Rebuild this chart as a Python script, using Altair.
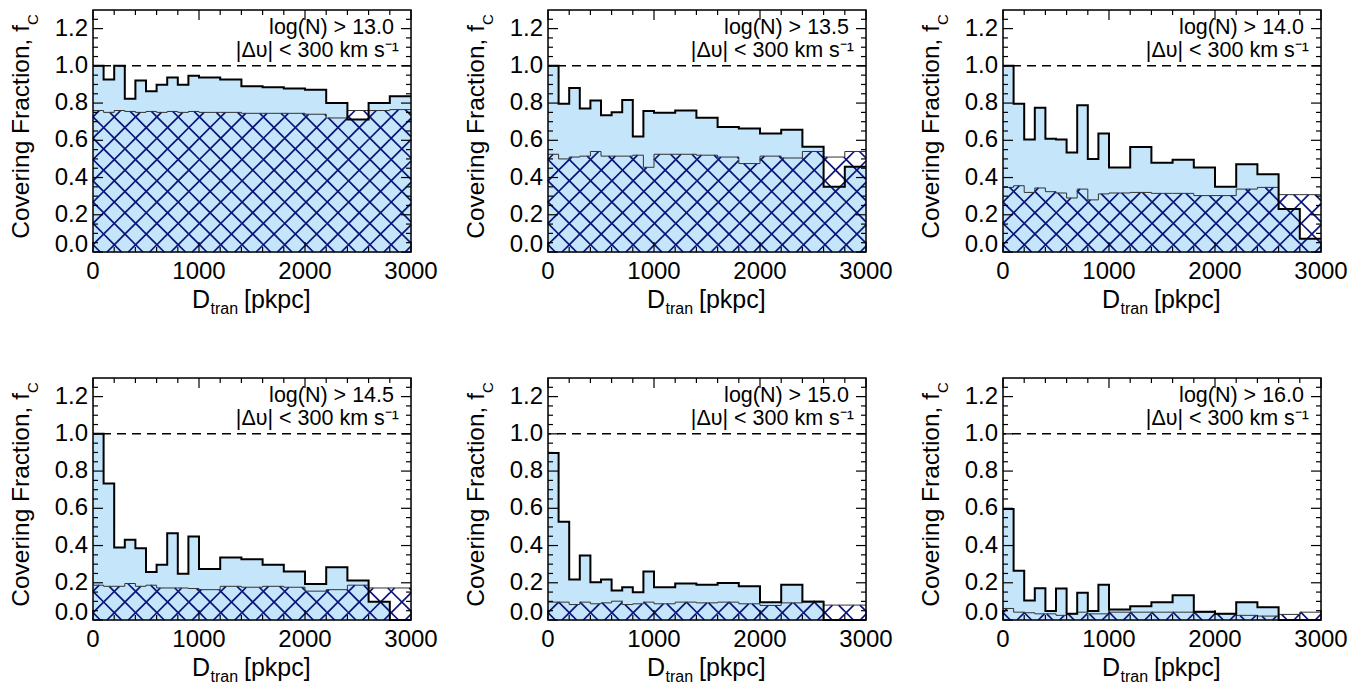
import math
import altair as alt
import pandas as pd

# ---------------- data ----------------
BIN_LO = [0, 100, 200, 300, 400, 500, 600, 700, 800, 900,
          1000, 1200, 1400, 1600, 1800, 2000, 2200, 2400, 2600, 2800]
BIN_HI = [100, 200, 300, 400, 500, 600, 700, 800, 900, 1000,
          1200, 1400, 1600, 1800, 2000, 2200, 2400, 2600, 2800, 3000]

THRESH = ["13.0", "13.5", "14.0", "14.5", "15.0", "16.0"]

FC_ALL_130 = [1.0, 0.926, 1.0, 0.823, 0.921, 0.864, 0.899, 0.938, 0.899, 0.947,
              0.938, 0.926, 0.890, 0.885, 0.878, 0.872, 0.801, 0.712, 0.801, 0.837]
FC_HAT_130 = [0.76, 0.75, 0.76, 0.755, 0.75, 0.755, 0.75, 0.755, 0.75, 0.755,
              0.75, 0.75, 0.745, 0.745, 0.745, 0.74, 0.72, 0.76, 0.76, 0.765]

FC_ALL_135 = [1.0, 0.796, 0.881, 0.771, 0.814, 0.734, 0.751, 0.816, 0.62, 0.757,
              0.748, 0.760, 0.721, 0.671, 0.664, 0.637, 0.657, 0.566, 0.351, 0.458]
FC_HAT_135 = [0.525, 0.50, 0.51, 0.515, 0.54, 0.515, 0.515, 0.515, 0.52, 0.455,
              0.525, 0.525, 0.52, 0.51, 0.475, 0.515, 0.505, 0.54, 0.51, 0.54]

FC_ALL_140 = [1.0, 0.796, 0.605, 0.775, 0.609, 0.604, 0.534, 0.789, 0.499, 0.636,
              0.454, 0.564, 0.479, 0.495, 0.454, 0.351, 0.472, 0.418, 0.231, 0.071]
FC_HAT_140 = [0.347, 0.356, 0.32, 0.344, 0.324, 0.317, 0.29, 0.338, 0.28, 0.312,
              0.317, 0.32, 0.315, 0.315, 0.303, 0.303, 0.338, 0.347, 0.308, 0.308]

FC_ALL_145 = [1.0, 0.733, 0.39, 0.431, 0.386, 0.258, 0.297, 0.466, 0.249, 0.448,
              0.274, 0.336, 0.327, 0.297, 0.261, 0.194, 0.283, 0.212, 0.098, 0.0]
FC_HAT_145 = [0.187, 0.181, 0.181, 0.196, 0.181, 0.187, 0.172, 0.172, 0.172, 0.169,
              0.163, 0.181, 0.176, 0.181, 0.176, 0.155, 0.163, 0.187, 0.172, 0.172]

FC_ALL_150 = [0.897, 0.528, 0.217, 0.347, 0.203, 0.217, 0.158, 0.176, 0.149, 0.261,
              0.176, 0.196, 0.19, 0.199, 0.181, 0.096, 0.19, 0.098, 0.0, 0.0]
FC_HAT_150 = [0.096, 0.096, 0.083, 0.096, 0.087, 0.092, 0.101, 0.083, 0.087, 0.096,
              0.087, 0.096, 0.092, 0.096, 0.087, 0.078, 0.092, 0.101, 0.08, 0.08]

FC_ALL_160 = [0.596, 0.265, 0.105, 0.171, 0.048, 0.169, 0.033, 0.146, 0.048, 0.19,
              0.057, 0.074, 0.096, 0.133, 0.044, 0.033, 0.096, 0.069, 0.0, 0.0]
FC_HAT_160 = [0.062, 0.042, 0.039, 0.033, 0.033, 0.025, 0.033, 0.042, 0.033, 0.033,
              0.042, 0.042, 0.042, 0.042, 0.042, 0.033, 0.025, 0.021, 0.03, 0.042]

FC_ALL = [FC_ALL_130, FC_ALL_135, FC_ALL_140, FC_ALL_145, FC_ALL_150, FC_ALL_160]
FC_HAT = [FC_HAT_130, FC_HAT_135, FC_HAT_140, FC_HAT_145, FC_HAT_150, FC_HAT_160]

Y_MAJOR = [0.0, 0.2, 0.4, 0.6, 0.8, 1.0, 1.2]
Y_LABELS = ["0.0", "0.2", "0.4", "0.6", "0.8", "1.0", "1.2"]
Y_MINOR = [round(0.05 * i, 2) for i in range(1, 26) if i % 4 != 0]
X_MAJOR = [0, 1000, 2000, 3000]
X_LABELS = ["0", "1000", "2000", "3000"]
X_MINOR = [200, 400, 600, 800, 1200, 1400, 1600, 1800, 2200, 2400, 2600, 2800]

# ---------------- style ----------------
W, H = 318, 242
XMAX, YMAX = 3000.0, 1.3
BLUE = "#c4e5fa"
NAVY = "#0a1478"
FONT = "Liberation Sans"
HATCH_STEP = 21.3
HATCH_PHASE = 7.3
TICK_FS = 24
NOTE_FS = 21.5

X_SCALE = alt.Scale(domain=[0, XMAX], nice=False, zero=False)
Y_SCALE = alt.Scale(domain=[0, YMAX], nice=False, zero=False)


def hatch_segments(lo, hi, vals):
    """Cross-hatch segments (45 deg in pixel space) clipped to each bin."""
    rows = []
    s, p = HATCH_STEP, HATCH_PHASE
    for a, b, v in zip(lo, hi, vals):
        X0, X1 = a * W / XMAX, b * W / XMAX
        Y0, Y1 = 0.0, v * H / YMAX
        if Y1 <= 0:
            continue
        # family A: y = x + c
        for k in range(math.floor((Y0 - X1 - p) / s) - 1, math.ceil((Y1 - X0 - p) / s) + 2):
            c = p + k * s
            xa, xb = max(X0, Y0 - c), min(X1, Y1 - c)
            if xb - xa > 1e-6:
                rows.append((xa, xa + c, xb, xb + c))
        # family B: y = c - x
        for k in range(math.floor((X0 + Y0 - p) / s) - 1, math.ceil((X1 + Y1 - p) / s) + 2):
            c = p + k * s
            xa, xb = max(X0, c - Y1), min(X1, c - Y0)
            if xb - xa > 1e-6:
                rows.append((xa, c - xa, xb, c - xb))
    return pd.DataFrame({
        "x1": [r[0] * XMAX / W for r in rows],
        "y1": [r[1] * YMAX / H for r in rows],
        "x2": [r[2] * XMAX / W for r in rows],
        "y2": [r[3] * YMAX / H for r in rows],
    })


ONE = pd.DataFrame({"a": [0]})


def text(t, x, y, size, align="left", angle=0):
    kw = dict(text=t, align=align, baseline="alphabetic", fontSize=size,
              font=FONT, color="black")
    if angle:
        kw["angle"] = angle
    return alt.Chart(ONE).mark_text(**kw).encode(x=alt.value(x), y=alt.value(y))


def tick_layers():
    layers = []
    for vals, ln in ((Y_MAJOR, 10), (Y_MINOR, 5)):
        d = pd.DataFrame({"v": vals})
        yy = alt.Y("v:Q", scale=Y_SCALE, axis=None)
        layers.append(alt.Chart(d).mark_rule(color="black", strokeWidth=1.2).encode(
            y=yy, x=alt.value(0), x2=alt.value(ln)))
        layers.append(alt.Chart(d).mark_rule(color="black", strokeWidth=1.2).encode(
            y=yy, x=alt.value(W), x2=alt.value(W - ln)))
    for vals, ln in ((X_MAJOR, 10), (X_MINOR, 5)):
        d = pd.DataFrame({"v": vals})
        xx = alt.X("v:Q", scale=X_SCALE, axis=None)
        layers.append(alt.Chart(d).mark_rule(color="black", strokeWidth=1.2).encode(
            x=xx, y=alt.value(H), y2=alt.value(H - ln)))
        layers.append(alt.Chart(d).mark_rule(color="black", strokeWidth=1.2).encode(
            x=xx, y=alt.value(0), y2=alt.value(ln)))
    return layers


def label_layers():
    xl = pd.DataFrame({"v": X_MAJOR, "t": X_LABELS})
    yl = pd.DataFrame({"v": Y_MAJOR[1:], "t": Y_LABELS[1:]})
    y0 = pd.DataFrame({"v": Y_MAJOR[:1], "t": Y_LABELS[:1]})
    return [
        alt.Chart(xl).mark_text(align="center", baseline="top", fontSize=TICK_FS,
                                font=FONT, color="black").encode(
            x=alt.X("v:Q", scale=X_SCALE, axis=None), y=alt.value(H + 8), text="t:N"),
        alt.Chart(yl).mark_text(align="right", baseline="middle", fontSize=TICK_FS,
                                font=FONT, color="black").encode(
            y=alt.Y("v:Q", scale=Y_SCALE, axis=None), x=alt.value(-5), text="t:N"),
        alt.Chart(y0).mark_text(align="right", baseline="alphabetic", fontSize=TICK_FS,
                                font=FONT, color="black").encode(
            x=alt.value(-5), y=alt.value(H - 0.5), text="t:N"),
    ]


def panel(i):
    fa, fh = FC_ALL[i], FC_HAT[i]
    steps = pd.DataFrame({"x": BIN_LO + [BIN_HI[-1]],
                          "fa": fa + [fa[-1]], "fh": fh + [fh[-1]]})
    seg = hatch_segments(BIN_LO, BIN_HI, fh)

    fill = alt.Chart(steps).mark_area(interpolate="step-after", color=BLUE).encode(
        x=alt.X("x:Q", scale=X_SCALE, axis=None),
        y=alt.Y("fa:Q", scale=Y_SCALE, axis=None))
    hatch = alt.Chart(seg).mark_rule(color=NAVY, strokeWidth=1.7).encode(
        x=alt.X("x1:Q", scale=X_SCALE, axis=None), x2="x2:Q",
        y=alt.Y("y1:Q", scale=Y_SCALE, axis=None), y2="y2:Q")
    hatch_line = alt.Chart(steps).mark_line(interpolate="step-after", color="#333333",
                                             strokeWidth=1.0).encode(
        x=alt.X("x:Q", scale=X_SCALE, axis=None),
        y=alt.Y("fh:Q", scale=Y_SCALE, axis=None))
    outer_line = alt.Chart(steps).mark_line(interpolate="step-after", color="black",
                                             strokeWidth=2.0).encode(
        x=alt.X("x:Q", scale=X_SCALE, axis=None),
        y=alt.Y("fa:Q", scale=Y_SCALE, axis=None))
    dashed = alt.Chart(pd.DataFrame({"r": [1.0]})).mark_rule(
        color="black", strokeWidth=1.5, strokeDash=[9, 6]).encode(
        y=alt.Y("r:Q", scale=Y_SCALE, axis=None))
    frame = alt.Chart(ONE).mark_rect(filled=False, stroke="black", strokeWidth=1.5).encode(
        x=alt.value(0), x2=alt.value(W), y=alt.value(0), y2=alt.value(H))

    texts = [
        text("log(N) > " + THRESH[i], W - 17, 24, NOTE_FS, align="right"),
        text("|\u0394\u03c5| < 300 km s\u207b\u00b9", W - 12, 47, NOTE_FS, align="right"),
        text("Covering Fraction, f", -64, 15, 24.5, align="right", angle=270),
        text("C", -55, 15, 15, align="left", angle=270),
        text("D", 117, H + 56, 25, align="right"),
        text("tran", 117.5, H + 62, 16, align="left"),
        text("[pkpc]", 151, H + 56, 25, align="left"),
    ]

    return alt.layer(fill, hatch, hatch_line, outer_line, dashed,
                     *tick_layers(), frame, *label_layers(), *texts
                     ).properties(width=W, height=H)


chart = alt.concat(*[panel(i) for i in range(6)], columns=3).properties(
    spacing={"row": 126, "column": 137},
    bounds="flush",
    padding={"left": 0, "top": 0, "right": 5, "bottom": 2},
).configure_view(stroke=None).configure(font=FONT)

chart.save("out.html", embed_options={"renderer": "svg", "actions": False})
